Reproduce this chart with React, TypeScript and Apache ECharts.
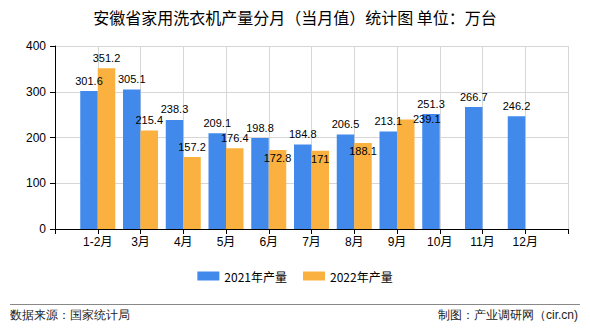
import React, { useEffect, useRef } from "react";
import * as echarts from "echarts";

const months = ["1-2月", "3月", "4月", "5月", "6月", "7月", "8月", "9月", "10月", "11月", "12月"];
const output2021 = [301.6, 305.1, 238.3, 209.1, 198.8, 184.8, 206.5, 213.1, 251.3, 266.7, 246.2];
const output2022 = [351.2, 215.4, 157.2, 176.4, 172.8, 171, 188.1, 239.1];
const seriesNames = ["2021年产量", "2022年产量"];
const yTicks = { min: 0, max: 400, interval: 100 };
const titleText = "安徽省家用洗衣机产量分月（当月值）统计图 单位：万台";
const sourceText = "数据来源：国家统计局";
const makerText = "制图：产业调研网（cir.cn)";

const BLUE = "#418AEC";
const ORANGE = "#FBB13F";
const NUM_FONT = "'Liberation Sans', 'Noto Sans CJK SC', sans-serif";
const CJK_FONT = "'Noto Sans CJK SC', sans-serif";

// label nudges (style only) for overlapping labels, by month index
const shift2022: Record<number, [number, number]> = {
  4: [0, 19],
  5: [0, 19],
  6: [0, 19],
  7: [21, 10],
};

export default function App() {
  const ref = useRef<HTMLDivElement>(null);
  useEffect(() => {
    if (!ref.current) return;
    const chart = echarts.init(ref.current, undefined, { renderer: "svg" });
    const cats = ["", ...months, ""];
    const d2021: any[] = ["-", ...output2021, "-"];
    const d2022: any[] = ["-"];
    for (let i = 0; i < months.length; i++) {
      if (i < output2022.length) {
        const item: any = { value: output2022[i] };
        if (shift2022[i]) item.label = { offset: shift2022[i] };
        d2022.push(item);
      } else d2022.push("-");
    }
    d2022.push("-");
    const labelStyle = {
      show: true,
      position: "top" as const,
      distance: 5,
      color: "#000",
      fontSize: 11,
      fontFamily: NUM_FONT,
    };
    chart.setOption({
      animation: false,
      backgroundColor: "#fff",
      title: {
        text: titleText,
        left: "center",
        top: 9,
        padding: 0,
        textStyle: { fontSize: 16, fontWeight: "normal", color: "#000", fontFamily: CJK_FONT },
      },
      legend: {
        data: seriesNames,
        left: "center",
        top: 270,
        padding: 0,
        itemWidth: 22,
        itemHeight: 9,
        itemGap: 16,
        icon: "rect",
        textStyle: { fontSize: 12, color: "#000", fontFamily: CJK_FONT },
      },
      grid: { left: 55, right: 22, top: 46, bottom: 101, containLabel: false },
      xAxis: {
        type: "category",
        data: cats,
        boundaryGap: false,
        axisLine: { show: true, lineStyle: { color: "#000", width: 1 } },
        axisTick: { show: true, length: 5, interval: 0, lineStyle: { color: "#000" } },
        axisLabel: { interval: 0, color: "#000", fontSize: 12, margin: 7, fontFamily: NUM_FONT },
        splitLine: { show: true, interval: 0, lineStyle: { color: "#d6d6d6", width: 1 } },
      },
      yAxis: {
        type: "value",
        min: yTicks.min,
        max: yTicks.max,
        interval: yTicks.interval,
        axisLine: { show: true, lineStyle: { color: "#000", width: 1 } },
        axisTick: { show: true, length: 5, lineStyle: { color: "#000" } },
        axisLabel: { color: "#000", fontSize: 12, margin: 9, fontFamily: NUM_FONT },
        splitLine: { show: true, lineStyle: { color: "#d6d6d6", width: 1 } },
      },
      series: [
        {
          name: seriesNames[0],
          type: "bar",
          data: d2021,
          barWidth: 17.5,
          barGap: "0%",
          itemStyle: { color: BLUE },
          label: labelStyle,
        },
        {
          name: seriesNames[1],
          type: "bar",
          data: d2022,
          barWidth: 17.5,
          barGap: "0%",
          itemStyle: { color: ORANGE },
          label: labelStyle,
        },
      ],
      graphic: [
        {
          type: "line",
          shape: { x1: 10, y1: 304.5, x2: 580, y2: 304.5 },
          style: { stroke: "#888", lineWidth: 1 },
        },
        {
          type: "text",
          left: 10,
          top: 309,
          style: { text: sourceText, fontSize: 12, fill: "#222", font: "12px " + CJK_FONT },
        },
        {
          type: "text",
          right: 12,
          top: 309,
          style: { text: makerText, fontSize: 12, fill: "#222", font: "12px " + CJK_FONT },
        },
      ],
    });
    return () => chart.dispose();
  }, []);
  return <div ref={ref} style={{ width: 590, height: 330, position: "absolute", left: 0, top: 0 }} />;
}
